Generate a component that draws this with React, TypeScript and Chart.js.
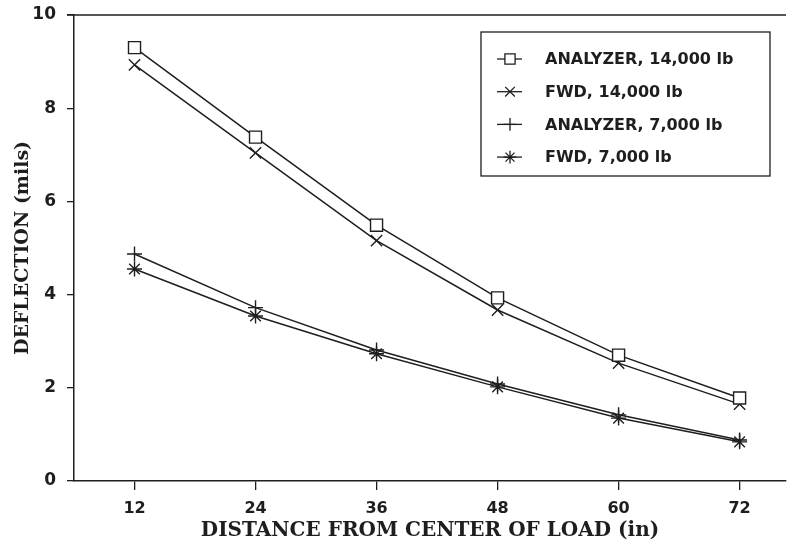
import React, { useEffect, useRef } from "react";
import { Chart, registerables } from "chart.js";
import { drawPoint } from "chart.js/helpers";

Chart.register(...registerables);

// Distance from the center of the load, inches
const distances = [12, 24, 36, 48, 60, 72];
const xTicks = [12, 24, 36, 48, 60, 72];
const yTicks = [0, 2, 4, 6, 8, 10];

// Deflections, mils
const analyzer14k = [9.3, 7.38, 5.49, 3.93, 2.7, 1.78];
const fwd14k = [8.93, 7.04, 5.16, 3.67, 2.53, 1.65];
const analyzer7k = [4.87, 3.72, 2.81, 2.08, 1.42, 0.88];
const fwd7k = [4.55, 3.54, 2.73, 2.02, 1.35, 0.84];

const seriesLabels = [
  "ANALYZER, 14,000 lb",
  "FWD, 14,000 lb",
  "ANALYZER, 7,000 lb",
  "FWD, 7,000 lb",
];

const INK = "#1e1e1e";
const SANS = "'DejaVu Sans', Verdana, sans-serif";
const SERIF = "'DejaVu Serif', 'Liberation Serif', serif";

const toPoints = (ys: number[]) => distances.map((x, i) => ({ x, y: ys[i] }));

// Boxed legend in the upper right of the plot, plus the top frame line.
const boxLegend = {
  id: "boxLegend",
  afterDatasetsDraw(chart: any) {
    const { ctx, chartArea } = chart;
    ctx.save();
    ctx.strokeStyle = INK;
    ctx.lineWidth = 1.5;
    ctx.beginPath();
    ctx.moveTo(chartArea.left - 7, chartArea.top);
    ctx.lineTo(chartArea.right, chartArea.top);
    ctx.stroke();

    const bx = chartArea.right - 305;
    const by = chartArea.top + 17;
    const bw = 289;
    const bh = 144;
    ctx.fillStyle = "#ffffff";
    ctx.fillRect(bx, by, bw, bh);
    ctx.lineWidth = 1.3;
    ctx.strokeRect(bx, by, bw, bh);

    chart.data.datasets.forEach((ds: any, i: number) => {
      const cy = by + 27 + i * 32.7;
      ctx.strokeStyle = INK;
      ctx.lineWidth = 1.3;
      ctx.beginPath();
      ctx.moveTo(bx + 16, cy);
      ctx.lineTo(bx + 41, cy);
      ctx.stroke();
      ctx.fillStyle = "#ffffff";
      drawPoint(
        ctx,
        {
          pointStyle: ds.pointStyle,
          radius: ds.pointRadius * 0.85,
          rotation: 0,
          borderWidth: 1.3,
        } as any,
        bx + 29,
        cy
      );
      ctx.fillStyle = INK;
      ctx.font = `bold 16px ${SANS}`;
      ctx.textBaseline = "middle";
      ctx.textAlign = "left";
      ctx.fillText(ds.label, bx + 64, cy + 1);
    });
    ctx.restore();
  },
};

export default function App() {
  const canvasRef = useRef<HTMLCanvasElement | null>(null);

  useEffect(() => {
    document.body.style.margin = "0";
    const canvas = canvasRef.current;
    if (!canvas) return;

    const common = {
      borderColor: INK,
      pointBorderColor: INK,
      pointBackgroundColor: "#ffffff",
      borderWidth: 1.5,
      pointBorderWidth: 1.4,
      tension: 0,
      fill: false,
      clip: false,
    };

    const chart = new Chart(canvas, {
      type: "line",
      data: {
        datasets: [
          { ...common, label: seriesLabels[0], data: toPoints(analyzer14k), pointStyle: "rect", pointRadius: 8.5 },
          { ...common, label: seriesLabels[1], data: toPoints(fwd14k), pointStyle: "crossRot", pointRadius: 8 },
          { ...common, label: seriesLabels[2], data: toPoints(analyzer7k), pointStyle: "cross", pointRadius: 7.5 },
          { ...common, label: seriesLabels[3], data: toPoints(fwd7k), pointStyle: "star", pointRadius: 7.5 },
        ],
      },
      options: {
        animation: false,
        responsive: false,
        maintainAspectRatio: false,
        layout: { autoPadding: false, padding: { top: 15, right: 4, left: 0, bottom: 0 } },
        plugins: {
          legend: { display: false },
          tooltip: { enabled: false },
        },
        scales: {
          x: {
            type: "linear",
            min: 6,
            max: 76.6,
            afterBuildTicks: (axis: any) => {
              axis.ticks = xTicks.map((v) => ({ value: v }));
            },
            afterFit: (axis: any) => {
              axis.height = 62;
              axis.paddingLeft = 0;
              axis.paddingRight = 0;
            },
            border: { display: true, color: INK, width: 1.5 },
            grid: { drawOnChartArea: false, drawTicks: true, tickLength: 9, color: INK, lineWidth: 1.3 },
            ticks: {
              color: INK,
              padding: 9,
              font: { family: SANS, size: 16, weight: "bold" },
            },
            title: {
              display: true,
              text: "DISTANCE FROM CENTER OF LOAD (in)",
              color: INK,
              padding: { top: -8, bottom: 0 },
              font: { family: SERIF, size: 20, weight: "bold" },
            },
          },
          y: {
            type: "linear",
            min: 0,
            max: 10,
            afterBuildTicks: (axis: any) => {
              axis.ticks = yTicks.map((v) => ({ value: v }));
            },
            afterFit: (axis: any) => {
              axis.width = 74;
              axis.paddingTop = 0;
              axis.paddingBottom = 0;
            },
            border: { display: true, color: INK, width: 1.5 },
            grid: { drawOnChartArea: false, drawTicks: true, tickLength: 7, color: INK, lineWidth: 1.3 },
            ticks: {
              color: INK,
              padding: 11,
              font: { family: SANS, size: 17, weight: "bold" },
            },
            title: {
              display: true,
              text: "DEFLECTION (mils)",
              color: INK,
              padding: { top: 12, bottom: 0 },
              font: { family: SERIF, size: 19, weight: "bold" },
            },
          },
        },
      },
      plugins: [boxLegend],
    } as any);

    return () => chart.destroy();
  }, []);

  return (
    <div style={{ width: 790, height: 543, background: "#fff" }}>
      <canvas ref={canvasRef} width={790} height={543} style={{ display: "block" }} />
    </div>
  );
}
